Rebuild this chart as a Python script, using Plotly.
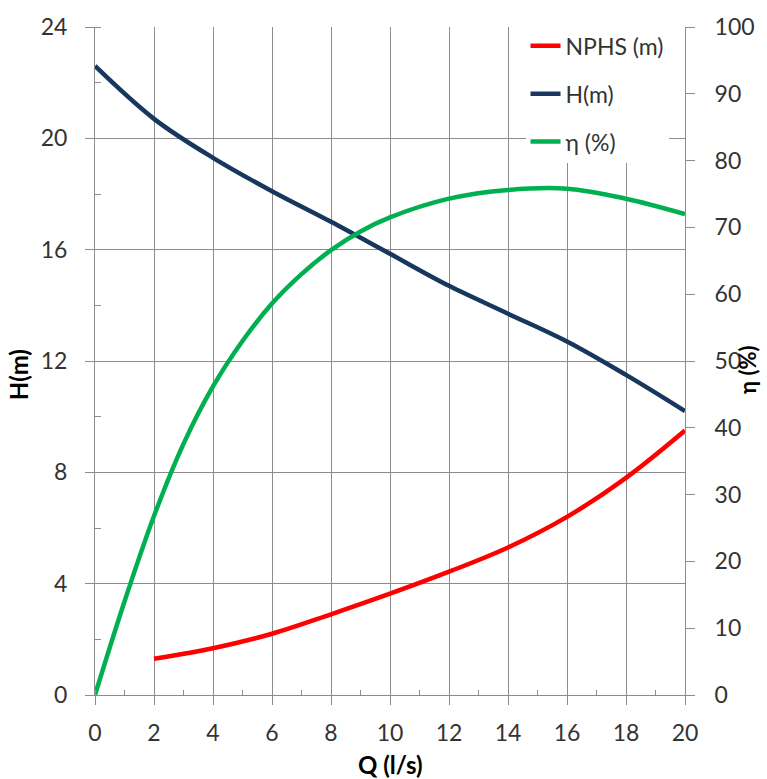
import plotly.graph_objects as go

# Data
q_h = [0, 2, 4, 6, 8, 10, 12, 14, 16, 18, 20]
h_m = [22.6, 20.7, 19.3, 18.1, 17.0, 15.85, 14.7, 13.7, 12.7, 11.5, 10.2]

q_npsh = [2, 4, 6, 8, 10, 12, 14, 16, 18, 20]
npsh_m = [1.3, 1.68, 2.2, 2.9, 3.64, 4.43, 5.3, 6.4, 7.8, 9.5]

q_eta = [0, 1, 2, 3, 4, 5, 6, 7, 8, 9, 10, 12, 14, 16, 18, 20]
eta_pct = [0, 14.0, 26.8, 37.6, 46.2, 53.0, 58.6, 63.0, 66.6, 69.4, 71.5, 74.3, 75.6, 75.8, 74.3, 72.0]

x_ticks = list(range(0, 21, 2))
h_ticks = list(range(0, 25, 4))
eta_ticks = list(range(0, 101, 10))

FONT = "Lato"
GRID = "#8c8c8c"
TXT = "#333333"
TICK_SIZE = 23

fig = go.Figure()
fig.add_trace(go.Scatter(x=q_npsh, y=npsh_m, name="NPHS (m)", mode="lines",
                         line=dict(color="#FF0000", width=4.5, shape="spline"),
                         legendgroup="a", yaxis="y"))
fig.add_trace(go.Scatter(x=q_h, y=h_m, name="H(m)", mode="lines",
                         line=dict(color="#17375E", width=4.5, shape="spline"),
                         legendgroup="b", yaxis="y"))
fig.add_trace(go.Scatter(x=q_eta, y=eta_pct, name="η (%)", mode="lines",
                         line=dict(color="#00B050", width=4.5, shape="spline"),
                         legendgroup="c", yaxis="y2"))

fig.update_layout(
    width=767, height=779,
    margin=dict(l=95, r=80, t=18, b=84),
    paper_bgcolor="white", plot_bgcolor="white",
    font=dict(family=FONT, size=TICK_SIZE, color=TXT),
    showlegend=True,
    legend=dict(x=0.7297, xanchor="left", y=1.004, yanchor="top",
                bgcolor="white", borderwidth=0, tracegroupgap=15,
                font=dict(family=FONT, size=TICK_SIZE, color=TXT), itemwidth=30),
    xaxis=dict(range=[0, 20], tickvals=x_ticks, showgrid=True, gridcolor=GRID, gridwidth=1,
               showline=True, linecolor=GRID, linewidth=1, zeroline=False,
               ticks="outside", ticklen=9, tickcolor=GRID, ticklabelstandoff=8,
               minor=dict(dtick=1, ticks="inside", ticklen=5, tickcolor=GRID, showgrid=False),
               tickfont=dict(family=FONT, size=TICK_SIZE, color=TXT)),
    yaxis=dict(range=[0, 24], tickvals=h_ticks, showgrid=True, gridcolor=GRID, gridwidth=1,
               showline=True, linecolor=GRID, linewidth=1, zeroline=False,
               ticks="outside", ticklen=9, tickcolor=GRID, ticklabelstandoff=13,
               minor=dict(dtick=2, ticks="inside", ticklen=6, tickcolor=GRID, showgrid=False),
               tickfont=dict(family=FONT, size=TICK_SIZE, color=TXT)),
    yaxis2=dict(range=[0, 100], tickvals=eta_ticks, overlaying="y", side="right",
                showgrid=False, showline=True, linecolor=GRID, linewidth=1, zeroline=False,
                ticks="outside", ticklen=9, tickcolor=GRID, ticklabelstandoff=15,
                tickfont=dict(family=FONT, size=TICK_SIZE, color=TXT)),
    annotations=[
        dict(text="<b>H(m)</b>", xref="paper", yref="paper", x=-0.130, y=0.479,
             textangle=-90, showarrow=False, font=dict(family=FONT, size=24, color="black"),
             xanchor="center", yanchor="middle"),
        dict(text="<b>Q (l/s)</b>", xref="paper", yref="paper", x=0.5, y=-0.1034,
             showarrow=False, font=dict(family=FONT, size=24, color="black"),
             xanchor="center", yanchor="middle"),
        dict(text="<b>η (%)</b>", xref="paper", yref="paper", x=1.106, y=0.4875,
             textangle=-90, showarrow=False, font=dict(family=FONT, size=22, color="black"),
             xanchor="center", yanchor="middle"),
    ],
)

fig.write_html("out.html")
